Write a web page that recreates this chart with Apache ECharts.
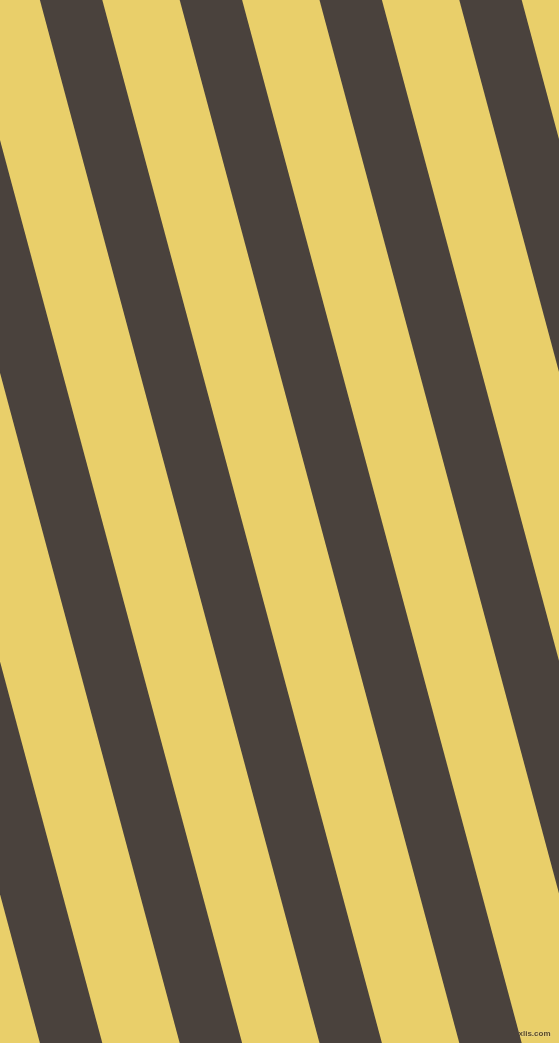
<!DOCTYPE html>
<html>
<head>
<meta charset="utf-8">
<script src="https://cdn.jsdelivr.net/npm/echarts@6/dist/echarts.min.js"></script>
<style>
  html, body { margin: 0; padding: 0; background: #e9cf6a; }
  #chart { width: 559px; height: 1043px; }
</style>
</head>
<body>
<div id="chart"></div>
<script>
// x where each dark stripe's left edge meets the top edge
var stripeTopX = [-239.7, -99.9, 39.9, 179.7, 319.5, 459.3];
// x where the same edge meets the bottom edge (y = 1043)
var stripeBottomX = [39.9, 179.7, 319.5, 459.3, 599.1, 738.9];
var stripeWidth = 62.4;
var frame = { w: 559, h: 1043 };

var myChart = echarts.init(document.getElementById('chart'));

function renderStripe(params, api) {
  var x0 = api.value(0);
  var x1 = api.value(1);
  var w = api.value(2);
  var pts = [
    api.coord([x0, 0]),
    api.coord([x0 + w, 0]),
    api.coord([x1 + w, frame.h]),
    api.coord([x1, frame.h])
  ];
  return {
    type: 'polygon',
    shape: { points: pts },
    style: { fill: '#4a423d' }
  };
}

var data = stripeTopX.map(function (x, i) {
  return [x, stripeBottomX[i], stripeWidth];
});

var option = {
  backgroundColor: '#e9cf6a',
  animation: false,
  grid: { left: 0, right: 0, top: 0, bottom: 0 },
  xAxis: { type: 'value', min: 0, max: frame.w, show: false },
  yAxis: { type: 'value', min: 0, max: frame.h, inverse: true, show: false },
  series: [{
    type: 'custom',
    renderItem: renderStripe,
    data: data,
    clip: true,
    silent: true
  }],
  graphic: [{
    type: 'text',
    right: 8,
    bottom: 5,
    style: {
      text: 'pixlis.com',
      font: 'bold 8px "Liberation Sans"',
      fill: '#5b4b26',
      stroke: '#e9d48a',
      lineWidth: 1
    }
  }]
};

myChart.setOption(option);
</script>
</body>
</html>
